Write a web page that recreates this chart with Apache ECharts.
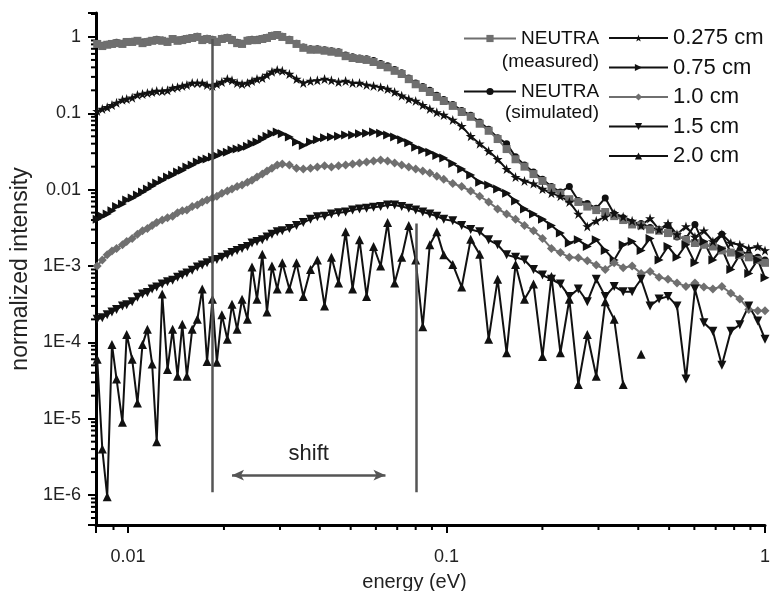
<!DOCTYPE html>
<html>
<head>
<meta charset="utf-8">
<script src="https://cdn.jsdelivr.net/npm/echarts@6/dist/echarts.min.js"></script>
<style>
  html, body { margin: 0; padding: 0; background: #fff; }
  #chart { width: 770px; height: 591px; }
</style>
</head>
<body>
<div id="chart"></div>
<script>
// Neutron energy spectra behind water layers of different thickness
const energy = [
  0.0080, 0.0083, 0.0086, 0.0089, 0.0092, 0.0096, 0.0099, 0.0103, 0.0107, 0.0111,
  0.0115, 0.0119, 0.0123, 0.0128, 0.0133, 0.0138, 0.0143, 0.0148, 0.0153, 0.0159,
  0.0165, 0.0171, 0.0177, 0.0184, 0.0190, 0.0197, 0.0205, 0.0212, 0.0220, 0.0228,
  0.0237, 0.0245, 0.0254, 0.0264, 0.0273, 0.0283, 0.0294, 0.0305,
  0.0321, 0.0338, 0.0355, 0.0374, 0.0393, 0.0414, 0.0435, 0.0458, 0.0482, 0.0507,
  0.0533, 0.0561, 0.0590, 0.0621, 0.0653, 0.0687, 0.0723, 0.0761, 0.0800, 0.0842,
  0.0886, 0.0932, 0.0980,
  0.1046, 0.1116, 0.1191, 0.1271, 0.1356, 0.1447, 0.1544, 0.1647, 0.1757, 0.1875,
  0.2001, 0.2135, 0.2278, 0.2430, 0.2593, 0.2767, 0.2952, 0.3150, 0.3361, 0.3586,
  0.3826, 0.4083, 0.4356, 0.4648, 0.4960, 0.5292, 0.5647, 0.6025, 0.6429, 0.6860,
  0.7320, 0.7810, 0.8334, 0.8892, 0.9488, 1.0
];

const neutraMeasured = [
  0.81, 0.76, 0.79, 0.81, 0.83, 0.81, 0.86, 0.86, 0.89, 0.83, 0.86, 0.89, 0.91, 0.89, 0.86, 0.94, 0.89, 0.91, 0.94, 0.97,
  1.0, 0.91, 0.94, 0.91, 0.86, 0.94, 0.97, 0.91, 0.83, 0.81, 0.89, 0.91, 0.91, 0.94, 0.97, 1.03, 1.06, 1.0,
  0.91, 0.81, 0.72, 0.68, 0.68, 0.66, 0.64, 0.62, 0.56, 0.53, 0.515, 0.50, 0.47, 0.43, 0.40, 0.36, 0.327, 0.28, 0.24, 0.215,
  0.19, 0.164, 0.145,
  0.125, 0.104, 0.09, 0.073, 0.059, 0.046, 0.034, 0.025, 0.02, 0.016, 0.013, 0.0105, 0.0088, 0.0075, 0.0069, 0.006, 0.0054, 0.0051,
  0.0045, 0.004, 0.0035, 0.0034, 0.003, 0.0029, 0.0027, 0.0025, 0.0022, 0.002, 0.0019, 0.0018, 0.0016, 0.0015, 0.0014, 0.0013, 0.0012, 0.0011
];

const neutraSimulated = [
  0.83, 0.78, 0.8, 0.82, 0.85, 0.83, 0.87, 0.88, 0.9, 0.86, 0.88, 0.9, 0.93, 0.91, 0.88, 0.95, 0.91, 0.93, 0.96, 0.98,
  1.02, 0.93, 0.96, 0.93, 0.88, 0.96, 0.99, 0.93, 0.85, 0.83, 0.91, 0.93, 0.93, 0.96, 0.99, 1.05, 1.08, 1.02,
  0.93, 0.83, 0.74, 0.7, 0.7, 0.68, 0.66, 0.64, 0.58, 0.55, 0.53, 0.52, 0.49, 0.45, 0.42, 0.375, 0.34, 0.29, 0.25, 0.225,
  0.2, 0.172, 0.152,
  0.13, 0.109, 0.094, 0.077, 0.062, 0.048, 0.040, 0.027, 0.021, 0.017, 0.0137, 0.011, 0.0093, 0.011, 0.0072, 0.0066, 0.0057, 0.0078,
  0.0048, 0.0043, 0.0037, 0.0036, 0.0032, 0.0030, 0.0034, 0.0024, 0.0023, 0.0035, 0.0019, 0.0018, 0.0026, 0.0015, 0.0016, 0.0014, 0.0013, 0.0012
];

const water0275 = [
  0.107, 0.114, 0.12, 0.128, 0.137, 0.15, 0.154, 0.16, 0.174, 0.179, 0.185, 0.19, 0.196, 0.196, 0.2, 0.215, 0.22, 0.228, 0.235, 0.25,
  0.25, 0.25, 0.235, 0.228, 0.242, 0.257, 0.281, 0.27, 0.25, 0.242, 0.25, 0.265, 0.281, 0.29, 0.318, 0.35, 0.37, 0.36,
  0.327, 0.281, 0.25, 0.265, 0.27, 0.281, 0.27, 0.257, 0.265, 0.25, 0.25, 0.235, 0.228, 0.22, 0.208, 0.19, 0.17, 0.154, 0.145, 0.128,
  0.114, 0.103, 0.095,
  0.082, 0.068, 0.05, 0.04, 0.032, 0.025, 0.0186, 0.0146, 0.013, 0.012, 0.0102, 0.009, 0.0082, 0.0069, 0.0048, 0.0033, 0.0039, 0.0044,
  0.0049, 0.0044, 0.0039, 0.0034, 0.0042, 0.003, 0.0036, 0.0026, 0.0033, 0.0024, 0.0029, 0.0021, 0.0026, 0.002, 0.0019, 0.0017, 0.0018, 0.0016
];

const water075 = [
  0.0041, 0.0045, 0.0048, 0.0053, 0.006, 0.0065, 0.0073, 0.0078, 0.0085, 0.0093, 0.0102, 0.0112, 0.0122, 0.0133, 0.0146, 0.0155, 0.017, 0.018, 0.0198, 0.021,
  0.023, 0.0245, 0.0252, 0.0268, 0.0277, 0.03, 0.031, 0.033, 0.034, 0.035, 0.037, 0.04, 0.042, 0.046, 0.05, 0.054, 0.057, 0.054,
  0.049, 0.042, 0.038, 0.042, 0.045, 0.048, 0.049, 0.05, 0.052, 0.052, 0.054, 0.055, 0.057, 0.055, 0.052, 0.049, 0.045, 0.041, 0.036, 0.033,
  0.031, 0.028, 0.026,
  0.022, 0.0186, 0.0155, 0.0125, 0.0115, 0.0102, 0.009, 0.0071, 0.0056, 0.0048, 0.0041, 0.0034, 0.0027, 0.002, 0.0022, 0.0018, 0.0022, 0.0016,
  0.0012, 0.0019, 0.0021, 0.0016, 0.0023, 0.0012, 0.0018, 0.0013, 0.0019, 0.0011, 0.0021, 0.0012, 0.0017, 0.0009, 0.0014, 0.0008, 0.0012, 0.0007
];

const water10 = [
  0.001, 0.0012, 0.0014, 0.00157, 0.0017, 0.0019, 0.0021, 0.0023, 0.0026, 0.0029, 0.0031, 0.0034, 0.0037, 0.004, 0.0043, 0.0045, 0.005, 0.0053, 0.0054, 0.006,
  0.0063, 0.0069, 0.0073, 0.0078, 0.0082, 0.009, 0.0096, 0.0102, 0.011, 0.0115, 0.0125, 0.0133, 0.0146, 0.016, 0.0175, 0.019, 0.021, 0.0216,
  0.021, 0.019, 0.0186, 0.019, 0.0198, 0.0205, 0.0198, 0.0205, 0.021, 0.0216, 0.0223, 0.023, 0.0237, 0.0245, 0.0237, 0.0223, 0.021, 0.0198, 0.0186, 0.0175,
  0.0165, 0.015, 0.0137,
  0.012, 0.011, 0.0096, 0.0082, 0.0069, 0.0056, 0.0048, 0.0041, 0.0034, 0.0029, 0.0023, 0.0017, 0.0015, 0.0013, 0.00128, 0.00117, 0.00103, 0.0009,
  0.0011, 0.00095, 0.001, 0.0008, 0.00085, 0.00071, 0.00067, 0.0006, 0.00054, 0.0006, 0.00053, 0.0005, 0.00054, 0.00044, 0.00037, 0.00027, 0.00026, 0.00026
];

const water15 = [
  0.0002, 0.00021, 0.00023, 0.00025, 0.00027, 0.0003, 0.00031, 0.00034, 0.00039, 0.00043, 0.00045, 0.0005, 0.00053, 0.00058, 0.00062, 0.00065, 0.00071, 0.00076, 0.00081, 0.00088,
  0.00097, 0.00103, 0.0011, 0.00117, 0.00122, 0.0013, 0.0014, 0.0015, 0.0016, 0.0017, 0.0018, 0.002, 0.0021, 0.0022, 0.0024, 0.0026, 0.0028, 0.0029,
  0.0031, 0.0034, 0.0037, 0.0041, 0.0044, 0.0045, 0.0048, 0.005, 0.0051, 0.0054, 0.0056, 0.0057, 0.0059, 0.006, 0.0063, 0.0063, 0.006, 0.0057, 0.0054, 0.0051,
  0.0048, 0.0045, 0.0041,
  0.0039, 0.0034, 0.003, 0.0028, 0.0022, 0.0019, 0.0014, 0.0013, 0.0012, 0.0009, 0.00076, 0.00067, 0.00058, 0.0004, 0.0005, 0.00034, 0.00067, 0.0004,
  0.00054, 0.00046, 0.00046, 0.00067, 0.0003, 0.00037, 0.0004, 0.0003, 0.000033, 0.0005, 0.00018, 0.00014, 0.00005, 0.00014, 0.00017, 0.0003, 0.00019, 0.00011
];

const water20 = [
  6e-5, 4e-6, 9.5e-7, 9.4e-5, 3.3e-5, 9e-6, 0.000127, 6e-5, 1.6e-5, 9.4e-5, 0.000148, 5.2e-5, 5e-6, 0.00043, 4.4e-5, 0.000148, 3.6e-5, 0.000172, 3.6e-5, 0.000148,
  0.0002, 0.0005, 5.6e-5, 0.000367, 5.5e-5, 0.00023, 0.00011, 0.000315, 0.000148, 0.000367, 0.0002, 0.00097, 0.000367, 0.00142, 0.00025, 0.001, 0.0005, 0.0011,
  0.0005, 0.0011, 0.0004, 0.0009, 0.0012, 0.0003, 0.0013, 0.0006, 0.0028, 0.0005, 0.0022, 0.0004, 0.0018, 0.001, 0.0037, 0.0006, 0.0013, 0.0034, 0.0012, 0.00016,
  0.0019, 0.0028, 0.0014,
  0.00105, 0.00053, 0.00224, 0.00142, 0.00011, 0.00067, 7.3e-5, 0.00105, 0.000367, 0.00058, 6.5e-5, 0.00073, 7.3e-5, 0.000367, 2.8e-5, 0.000127, 3.6e-5, 0.00034,
  0.0002, 2.8e-5, null, 7e-5, null, null, null, null, null, null, null, null, null, null, null, null, null, null
];

// Axis ranges and tick positions
const X_MIN = 0.00793, X_MAX = 1;
const Y_MIN = 4.05e-7, Y_MAX = 2.06;
const xMinorTicks = [0.009, 0.02, 0.03, 0.04, 0.05, 0.06, 0.07, 0.08, 0.09,
  0.2, 0.3, 0.4, 0.5, 0.6, 0.7, 0.8, 0.9];
const yMinorTicks = [5e-7, 6e-7, 7e-7, 8e-7, 9e-7,
  2e-6, 3e-6, 4e-6, 5e-6, 6e-6, 7e-6, 8e-6, 9e-6,
  2e-5, 3e-5, 4e-5, 5e-5, 6e-5, 7e-5, 8e-5, 9e-5,
  2e-4, 3e-4, 4e-4, 5e-4, 6e-4, 7e-4, 8e-4, 9e-4,
  2e-3, 3e-3, 4e-3, 5e-3, 6e-3, 7e-3, 8e-3, 9e-3,
  0.02, 0.03, 0.04, 0.05, 0.06, 0.07, 0.08, 0.09,
  0.2, 0.3, 0.4, 0.5, 0.6, 0.7, 0.8, 0.9, 2];

// Annotation: peak positions and the shift between them
const peakLow = { energy: 0.01837, top: 0.94, bottom: 1.09e-6 };
const peakHigh = { energy: 0.0805, top: 0.0036, bottom: 1.09e-6 };
const shiftArrow = { from: 0.0212, to: 0.0643, level: 1.82e-6, text: 'shift' };

const FONT = '"Liberation Sans", Arial, Helvetica, sans-serif';
const BLACK = '#111111';
const GRAY = '#6f6f6f';
const STAR = 'path://M50 0L61.2 34.5H97.6L68.2 55.9L79.4 90.5L50 69.1L20.6 90.5L31.8 55.9L2.4 34.5H38.8Z';

function pairs(vals) {
  return energy.map((e, i) => [e, vals[i] == null ? '-' : vals[i]]);
}

function isDecade(v) {
  const l = Math.log10(v);
  return Math.abs(l - Math.round(l)) < 1e-6;
}

function xLabel(v) {
  if (!isDecade(v)) return '';
  const e = Math.round(Math.log10(v));
  return Math.pow(10, e).toFixed(Math.max(0, -e));
}

function yLabel(v) {
  if (!isDecade(v)) return '';
  const e = Math.round(Math.log10(v));
  if (e >= -2) return Math.pow(10, e).toFixed(Math.max(0, -e));
  return '1E' + e;
}

function lineSeries(name, vals, color, symbol, size, rotate) {
  return {
    name: name,
    type: 'line',
    data: pairs(vals),
    symbol: symbol,
    symbolSize: size,
    symbolRotate: rotate || 0,
    connectNulls: false,
    lineStyle: { color: color, width: 2 },
    itemStyle: { color: color, borderWidth: 0 },
    emphasis: { disabled: true }
  };
}

const chart = echarts.init(document.getElementById('chart'), null, { renderer: 'canvas' });

const option = {
  animation: false,
  backgroundColor: '#ffffff',
  textStyle: { fontFamily: FONT },
  grid: { left: 96, right: 5, top: 13, bottom: 66, containLabel: false, outerBoundsMode: 'none' },
  xAxis: {
    type: 'log',
    logBase: 10,
    min: X_MIN,
    max: X_MAX,
    name: 'energy (eV)',
    nameLocation: 'middle',
    nameGap: 47,
    nameTextStyle: { fontSize: 20, color: '#222', fontFamily: FONT, padding: [0, 32, 0, 0] },
    axisLine: { lineStyle: { color: '#000', width: 3 } },
    axisTick: { length: 8, lineStyle: { color: '#000', width: 2 } },
    axisLabel: { formatter: xLabel, fontSize: 18, color: '#222', margin: 23, fontFamily: FONT },
    splitLine: { show: false }
  },
  yAxis: {
    type: 'log',
    logBase: 10,
    min: Y_MIN,
    max: Y_MAX,
    name: 'normalized intensity',
    nameLocation: 'middle',
    nameGap: 54,
    nameTextStyle: { fontSize: 23, color: '#222', fontFamily: FONT },
    axisLine: { lineStyle: { color: '#000', width: 3, cap: 'round' } },
    axisTick: { length: 8, lineStyle: { color: '#000', width: 2 } },
    axisLabel: { formatter: yLabel, fontSize: 18, color: '#222', margin: 15, fontFamily: FONT },
    splitLine: { show: false }
  },
  legend: [
    {
      data: ['NEUTRA (measured)', 'NEUTRA (simulated)'],
      orient: 'vertical',
      left: 458,
      top: 24,
      itemWidth: 52,
      itemHeight: 9,
      itemGap: 34,
      formatter: () => 'NEUTRA',
      textStyle: { fontSize: 19, color: '#111', fontFamily: FONT },
      selectedMode: false
    },
    {
      data: ['0.275 cm', '0.75 cm', '1.0 cm', '1.5 cm', '2.0 cm'],
      orient: 'vertical',
      left: 603,
      top: 22,
      itemWidth: 59,
      itemHeight: 9,
      itemGap: 7.5,
      textStyle: { fontSize: 22, color: '#111', fontFamily: FONT },
      selectedMode: false
    }
  ],
  graphic: [
    { type: 'text', right: 770 - 599, top: 52, style: { text: '(measured)', font: '19px ' + FONT, fill: '#111' } },
    { type: 'text', right: 770 - 599, top: 103, style: { text: '(simulated)', font: '19px ' + FONT, fill: '#111' } }
  ],
  series: [
    lineSeries('NEUTRA (simulated)', neutraSimulated, BLACK, 'circle', 7),
    lineSeries('NEUTRA (measured)', neutraMeasured, GRAY, 'rect', 8),
    lineSeries('0.275 cm', water0275, BLACK, STAR, 10),
    lineSeries('0.75 cm', water075, BLACK, 'triangle', 9, -90),
    lineSeries('1.0 cm', water10, GRAY, 'diamond', 9),
    lineSeries('1.5 cm', water15, BLACK, 'triangle', 9, 180),
    lineSeries('2.0 cm', water20, BLACK, 'triangle', 9),
    {
      name: 'peaks',
      type: 'line',
      data: [],
      silent: true,
      markLine: {
        silent: true,
        animation: false,
        symbol: ['none', 'none'],
        lineStyle: { color: '#555', width: 2.5, type: 'solid' },
        label: { show: false },
        emphasis: { disabled: true },
        data: [
          [{ coord: [peakLow.energy, peakLow.top] }, { coord: [peakLow.energy, peakLow.bottom] }],
          [{ coord: [peakHigh.energy, peakHigh.top] }, { coord: [peakHigh.energy, peakHigh.bottom] }]
        ]
      }
    },
    {
      name: 'shift',
      type: 'line',
      data: [],
      silent: true,
      markLine: {
        silent: true,
        animation: false,
        symbol: ['arrow', 'arrow'],
        symbolSize: [8, 12],
        lineStyle: { color: '#555', width: 2.5, type: 'solid' },
        label: {
          show: true, position: 'middle', formatter: shiftArrow.text,
          fontSize: 22, color: '#222', distance: 10, fontFamily: FONT
        },
        emphasis: { disabled: true },
        data: [
          [{ coord: [shiftArrow.from, shiftArrow.level] }, { coord: [shiftArrow.to, shiftArrow.level] }]
        ]
      }
    },
    {
      name: 'xMinor',
      type: 'custom',
      silent: true,
      clip: false,
      data: xMinorTicks.map(v => [v, Y_MIN]),
      renderItem: (params, api) => {
        const p = api.coord([api.value(0), api.value(1)]);
        return { type: 'line', shape: { x1: p[0], y1: p[1], x2: p[0], y2: p[1] + 5 }, style: { stroke: '#000', lineWidth: 2 } };
      }
    },
    {
      name: 'yMinor',
      type: 'custom',
      silent: true,
      clip: false,
      data: yMinorTicks.map(v => [X_MIN, v]),
      renderItem: (params, api) => {
        const p = api.coord([api.value(0), api.value(1)]);
        return { type: 'line', shape: { x1: p[0] - 5, y1: p[1], x2: p[0], y2: p[1] }, style: { stroke: '#000', lineWidth: 2 } };
      }
    }
  ]
};

chart.setOption(option);
</script>
</body>
</html>
